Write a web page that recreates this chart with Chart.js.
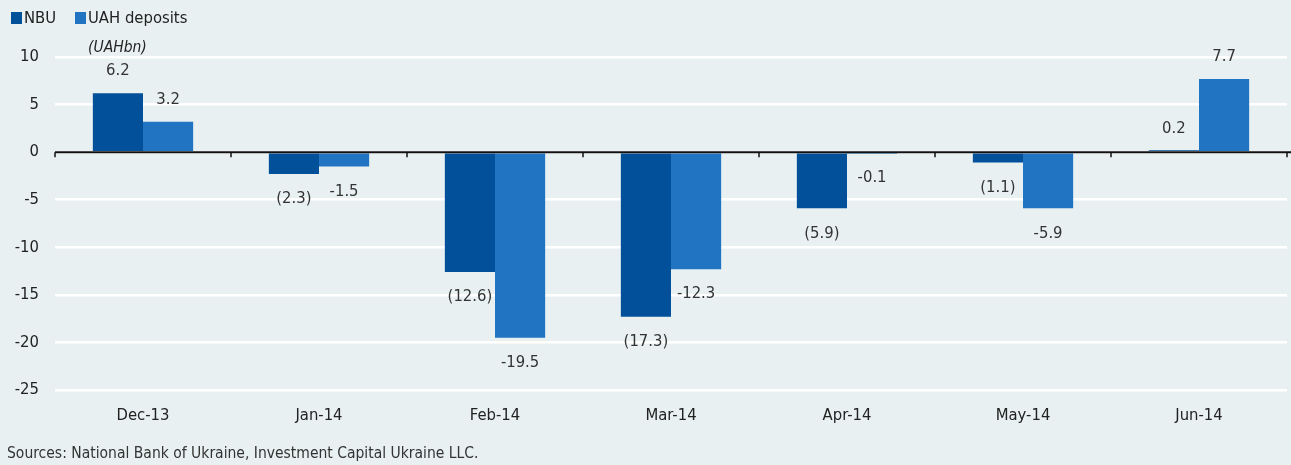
<!DOCTYPE html>
<html>
<head>
<meta charset="utf-8">
<script src="https://cdn.jsdelivr.net/npm/chart.js@4"></script>
<style>
  body { margin: 0; background: #e8f0f1; font-family: "Liberation Sans Narrow", "DejaVu Sans Condensed", sans-serif; color: #222; }
  #wrap { position: relative; width: 1291px; height: 465px; }
  canvas { position: absolute; left: 0; top: 0; }
  .lg { position: absolute; top: 8px; font-size: 16.5px; line-height: 20px; }
  .sq { position: absolute; width: 11px; height: 12px; top: 12px; }
  #unit { position: absolute; left: 88px; top: 38px; font-size: 15.5px; font-style: italic; }
  #src { position: absolute; left: 7px; top: 444px; font-size: 15.5px; color: #333; }
</style>
</head>
<body>
<div id="wrap">
  <canvas id="bar-chart" width="1291" height="465"></canvas>
  <div class="sq" style="left:11px;background:#03509a"></div>
  <div class="lg" style="left:24px">NBU</div>
  <div class="sq" style="left:75px;background:#2074c1"></div>
  <div class="lg" style="left:88px">UAH deposits</div>
  <div id="unit">(UAHbn)</div>
  <div id="src">Sources: National Bank of Ukraine, Investment Capital Ukraine LLC.</div>
</div>
<script>
let months = ['Dec-13', 'Jan-14', 'Feb-14', 'Mar-14', 'Apr-14', 'May-14', 'Jun-14'];
let nbu = [6.2, -2.3, -12.6, -17.3, -5.9, -1.1, 0.2];
let deposits = [3.2, -1.5, -19.5, -12.3, -0.1, -5.9, 7.7];

const fontName = '"Liberation Sans Narrow", "DejaVu Sans Condensed", sans-serif';

// value labels, NBU negatives in brackets
const labelPlugin = {
    id: 'labels',
    afterDatasetsDraw(chart) {
        const ctx = chart.ctx;
        ctx.save();
        ctx.font = '16.5px ' + fontName;
        ctx.fillStyle = '#333';
        ctx.textAlign = 'center';
        ctx.textBaseline = 'middle';
        chart.data.datasets.forEach((ds, di) => {
            chart.getDatasetMeta(di).data.forEach((bar, i) => {
                let v = ds.data[i];
                let txt = v.toFixed(1);
                if (di == 0 && v < 0) txt = '(' + Math.abs(v).toFixed(1) + ')';
                let y = v >= 0 ? bar.y - 22 : bar.y + 25;
                ctx.fillText(txt, bar.x, y);
            });
        });
        ctx.restore();
    }
};

// black zero line with small ticks between categories
const zeroLine = {
    id: 'zeroLine',
    afterDatasetsDraw(chart) {
        const ctx = chart.ctx;
        const x = chart.scales.x, y = chart.scales.y;
        const y0 = y.getPixelForValue(0);
        const step = x.getPixelForTick(1) - x.getPixelForTick(0);
        ctx.save();
        ctx.strokeStyle = '#111';
        ctx.lineWidth = 2;
        ctx.beginPath();
        ctx.moveTo(chart.chartArea.left, y0);
        ctx.lineTo(1291, y0);
        ctx.stroke();
        ctx.lineWidth = 1.5;
        for (let i = 0; i <= months.length; i++) {
            let px = Math.round(x.getPixelForTick(0) - step / 2 + i * step);
            ctx.beginPath();
            ctx.moveTo(px, y0);
            ctx.lineTo(px, y0 + 5);
            ctx.stroke();
        }
        ctx.restore();
    }
};

new Chart(document.getElementById('bar-chart'), {
    type: 'bar',
    data: {
        labels: months,
        datasets: [
            { label: 'NBU', data: nbu, backgroundColor: '#03509a' },
            { label: 'UAH deposits', data: deposits, backgroundColor: '#2074c1' }
        ]
    },
    options: {
        responsive: false,
        animation: false,
        categoryPercentage: 0.57,
        barPercentage: 1.0,
        layout: { padding: { top: 57, right: 4, bottom: 35, left: 0 } },
        plugins: { legend: { display: false }, tooltip: { enabled: false } },
        scales: {
            x: {
                grid: { display: false },
                border: { display: false },
                ticks: { color: '#222', font: { family: fontName, size: 16.5 }, padding: 8 },
                afterFit(scale) { scale.height = 40; }
            },
            y: {
                min: -25,
                max: 10,
                ticks: { stepSize: 5, color: '#222', font: { family: fontName, size: 16.5 }, padding: 16 },
                grid: { color: '#ffffff', lineWidth: 2.5, drawTicks: false },
                border: { display: false },
                afterFit(scale) { scale.width = 55; }
            }
        }
    },
    plugins: [labelPlugin, zeroLine]
});
</script>
</body>
</html>
